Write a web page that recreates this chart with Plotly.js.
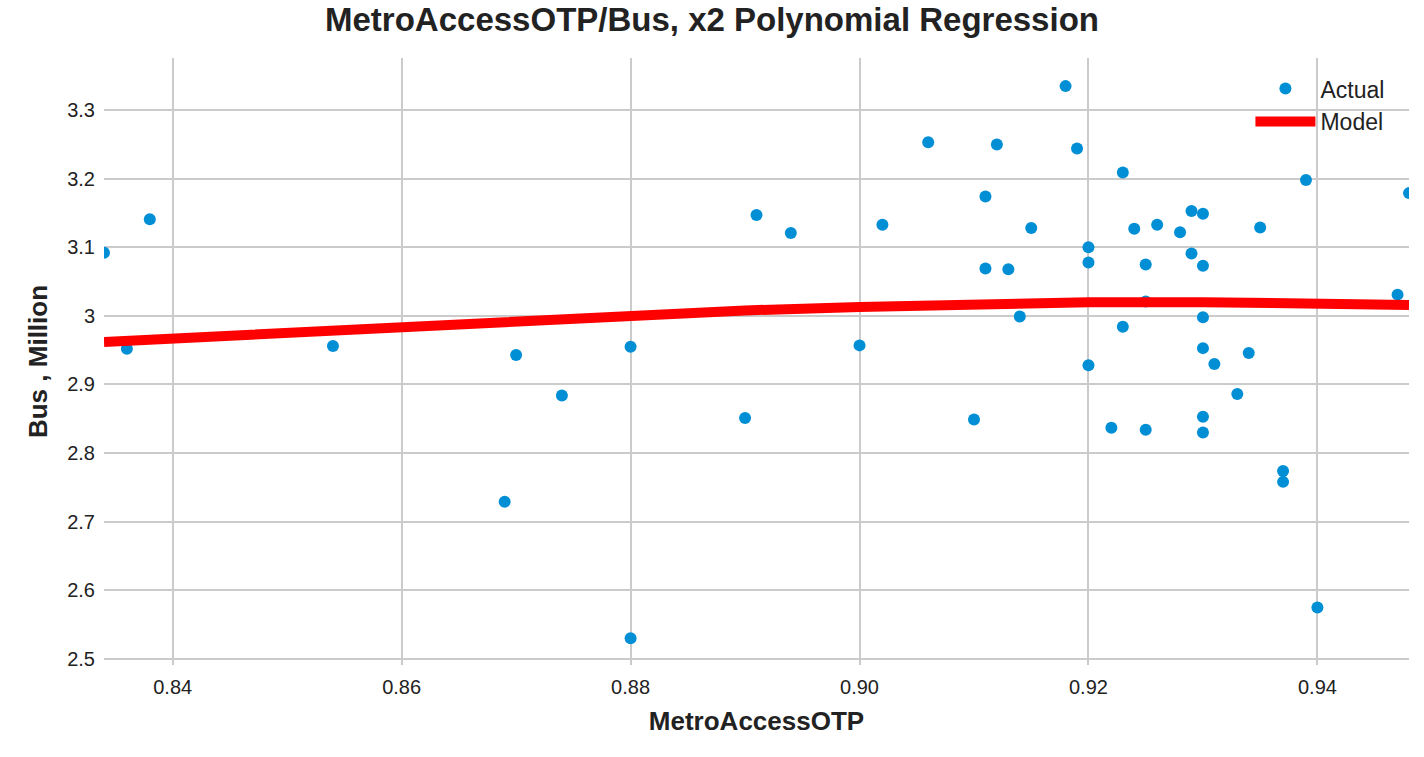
<!DOCTYPE html>
<html><head><script src="https://cdn.plot.ly/plotly-3.0.1.min.js"></script>
<style>body{margin:0}</style></head><body><div id="c" style="width:1424px;height:757px"></div>
<script>
const actualX=[0.834,0.836,0.838,0.854,0.869,0.870,0.874,0.880,0.880,0.890,0.891,0.894,0.900,0.902,0.906,0.910,0.911,0.911,0.912,0.913,0.914,0.915,0.918,0.919,0.920,0.920,0.920,0.922,0.923,0.923,0.924,0.925,0.925,0.925,0.926,0.928,0.929,0.929,0.930,0.930,0.930,0.930,0.930,0.930,0.931,0.933,0.934,0.935,0.937,0.937,0.939,0.940,0.947,0.948];
const actualY=[3.092,2.952,3.141,2.956,2.729,2.943,2.884,2.955,2.530,2.851,3.147,3.121,2.957,3.133,3.253,2.849,3.174,3.069,3.250,3.068,2.999,3.128,3.335,3.244,3.100,3.078,2.928,2.837,3.209,2.984,3.127,3.075,3.021,2.834,3.133,3.122,3.153,3.091,3.149,3.073,2.998,2.953,2.853,2.830,2.930,2.886,2.946,3.129,2.774,2.758,3.198,2.575,3.031,3.179];
const modelX=[0.834,0.85,0.86,0.87,0.88,0.89,0.90,0.91,0.92,0.93,0.94,0.948];
const modelY=[2.962,2.976,2.985,2.993,3.001,3.008,3.013,3.017,3.020,3.020,3.019,3.016];
const xTicks=[0.84,0.86,0.88,0.90,0.92,0.94];
const xTickText=['0.84','0.86','0.88','0.90','0.92','0.94'];
const yTicks=[2.5,2.6,2.7,2.8,2.9,3.0,3.1,3.2,3.3];
const yTickText=['2.5','2.6','2.7','2.8','2.9','3','3.1','3.2','3.3'];
const f='Arial, Liberation Sans, sans-serif';
Plotly.newPlot('c',[
 {x:actualX,y:actualY,mode:'markers',name:'Actual',marker:{color:'#008fd5',size:12}},
 {x:modelX,y:modelY,mode:'lines',name:'Model',line:{color:'#ff0000',width:10}}
],{
 width:1424,height:757,paper_bgcolor:'#fff',plot_bgcolor:'#fff',
 margin:{l:104,r:15,t:58,b:92},
 title:{text:'<b>MetroAccessOTP/Bus, x2 Polynomial Regression</b>',font:{family:f,size:33,color:'#222'},x:0.5,y:0.99,yanchor:'top'},
 xaxis:{range:[0.834,0.948],tickvals:xTicks,ticktext:xTickText,gridcolor:'#cbcbcb',gridwidth:1.5,zeroline:false,showline:false,ticklen:4,tickcolor:'#fff',
  tickfont:{family:f,size:20,color:'#222'},title:{text:'<b>MetroAccessOTP</b>',font:{family:f,size:26,color:'#222'},standoff:14}},
 yaxis:{range:[2.491,3.376],tickvals:yTicks,ticktext:yTickText,gridcolor:'#cbcbcb',gridwidth:1.5,zeroline:false,showline:false,ticklen:4,tickcolor:'#fff',
  tickfont:{family:f,size:20,color:'#222'},title:{text:'<b>Bus , Million</b>',font:{family:f,size:26,color:'#222'},standoff:12}},
 legend:{x:0.985,y:0.985,xanchor:'right',yanchor:'top',bgcolor:'rgba(0,0,0,0)',font:{family:f,size:23,color:'#222'},itemwidth:60,tracegroupgap:8},
 showlegend:true
},{displayModeBar:false});
</script></body></html>
